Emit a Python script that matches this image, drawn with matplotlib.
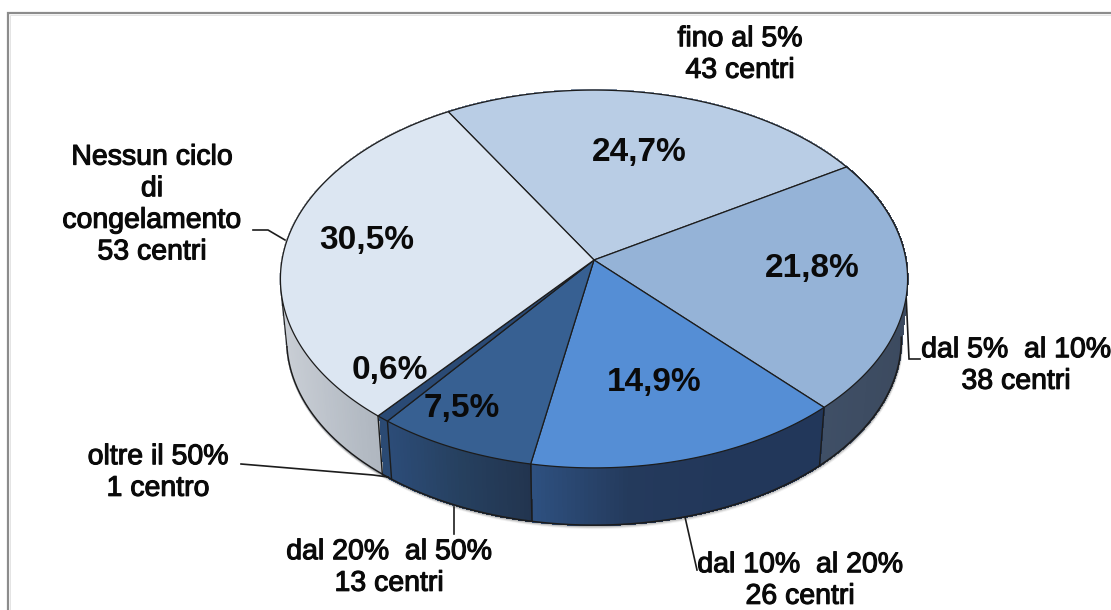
import numpy as np
import matplotlib
matplotlib.use("Agg")
import matplotlib.pyplot as plt
from matplotlib.patches import Polygon
from matplotlib.collections import PolyCollection
import matplotlib.colors as mc
import matplotlib.patheffects as pe

# ---- data ----
shares = [24.7, 21.8, 14.9, 7.5, 0.6, 30.5]
pct_labels = ["24,7%", "21,8%", "14,9%", "7,5%", "0,6%", "30,5%"]
cat_labels = ["fino al 5%\n43 centri", "dal 5%  al 10%\n38 centri",
              "dal 10%  al 20%\n26 centri", "dal 20%  al 50%\n13 centri",
              "oltre il 50%\n1 centro", "Nessun ciclo\ndi\ncongelamento\n53 centri"]

# ---- styles ----
top_colors = ["#b9cde5", "#95b3d7", "#558ed5", "#376092", "#2a4a75", "#dce6f2"]
side_stops = [["#8a9ab0", "#8a9ab0"],
              ["#3f4f66", "#3c4a5f"],
              ["#2e5080", "#243a5c", "#22375a", "#22375a"],
              ["#2c4c78", "#26405f", "#22344f"],
              ["#2b4a73", "#2b4a73"],
              ["#c9ced5", "#b2b9c2", "#a3aab4"]]
pct_pos = [(639, 153), (812, 268), (654, 383), (462, 408), (390, 370), (367, 240)]
cat_pos = [(740, 55), (1016, 366), (800, 581), (389, 568), (158, 473), (152, 205)]
leaders = [[(906, 293), (909, 359), (920, 359)],
           [(685, 517), (697, 570)],
           [(454, 507), (454, 534)],
           [(241, 464), (373, 475), (388, 477)],
           [(253, 230), (268, 230), (285, 240)]]

W, H = 1111, 610
fig = plt.figure(figsize=(W / 100, H / 100), dpi=100, facecolor="white")
ax = fig.add_axes([0, 0, 1, 1])
ax.set_xlim(0, W)
ax.set_ylim(H, 0)
ax.axis("off")
plt.rcParams["font.family"] = ["Liberation Sans", "DejaVu Sans"]

# frame
ax.plot([7.5, 7.5, W], [H, 12.5, 12.5], color="#8c8c8c", lw=1.6, solid_joinstyle="miter", zorder=1)
ax.plot([9.5, 9.5, W], [H, 14.5, 14.5], color="#e4e4e4", lw=0.7, zorder=1)

# projection of unit disc (clockwise angle from top) to pixels
CX, CY, A, B, K = 594, 260, 312, 187, 0.1005
S, CY2 = 0.98, 321.0


def rim(theta):
    x, y = np.sin(theta), np.cos(theta)
    d = 1 + K * y
    return CX + A * x / d, CY - B * y / d


def low(theta):
    px, py = rim(theta)
    return CX + S * (px - CX), CY2 + 0.982 * (py - CY)


START = np.radians(-30.5)
fracs = np.array(shares) / sum(shares)
edges = START + 2 * np.pi * np.concatenate([[0], np.cumsum(fracs)])
INK = "#1c1c1c"

# soft shadow under the lower edge
front = np.linspace(np.radians(95), np.radians(262), 200)
lx, ly = low(front)
for off, al in [(3.0, .05), (2.0, .10), (1.0, .18)]:
    ax.plot(lx + off * .3, ly + off, color="black", alpha=al, lw=1.5, zorder=2)

# side walls
for i, (t0, t1) in enumerate(zip(edges[:-1], edges[1:])):
    n = max(4, int((t1 - t0) * 80))
    ts = np.linspace(t0, t1, n + 1)
    rx, ry = rim(ts)
    bx, by = low(ts)
    stops = [mc.to_rgb(c) for c in side_stops[i]]
    pos = np.linspace(0, 1, len(stops))
    xmin, xmax = rx.min(), rx.max()
    quads, cols = [], []
    for j in range(n):
        quads.append([(rx[j], ry[j]), (rx[j + 1], ry[j + 1]), (bx[j + 1], by[j + 1]), (bx[j], by[j])])
        u = ((rx[j] + rx[j + 1]) / 2 - xmin) / max(xmax - xmin, 1e-6)
        cols.append([np.interp(u, pos, [s[c] for s in stops]) for c in range(3)])
    ax.add_collection(PolyCollection(quads, facecolors=cols, edgecolors=cols, linewidths=0.8,
                                     antialiaseds=False, zorder=3))

# outlines of side walls
ax.plot(lx, ly, color=INK, lw=1.1, zorder=4)
for t in edges:
    tn = np.mod(t, 2 * np.pi)
    if front[0] < tn < front[-1]:
        rx, ry = rim(t)
        bx, by = low(t)
        ax.plot([rx, bx], [ry, by], color=INK, lw=1.0, zorder=4)
tx0, ty0 = rim(front[-1])
ax.plot([tx0, lx[-1]], [ty0, ly[-1]], color=INK, lw=0.8, zorder=4)

# top face
for i, (t0, t1) in enumerate(zip(edges[:-1], edges[1:])):
    ts = np.linspace(t0, t1, max(3, int((t1 - t0) * 120)))
    rx, ry = rim(ts)
    pts = np.column_stack([np.r_[CX, rx], np.r_[CY, ry]])
    ax.add_patch(Polygon(pts, closed=True, facecolor=top_colors[i], edgecolor=INK,
                         lw=0.9, joinstyle="round", zorder=5))

# leader lines
for pts in leaders:
    xs, ys = zip(*pts)
    ax.plot(xs, ys, color=INK, lw=1.2, zorder=4.5, solid_joinstyle="miter")

# texts
for s, (x, y) in zip(pct_labels, pct_pos):
    ax.text(x, y, s, fontsize=24, fontweight="bold", ha="center", va="center",
            color="#0a0a0a", zorder=6)
for s, (x, y) in zip(cat_labels, cat_pos):
    t = ax.text(x, y, s, fontsize=20.5, ha="center", va="center", color="#0a0a0a",
                linespacing=1.28, zorder=6)
    t.set_path_effects([pe.withStroke(linewidth=0.8, foreground="#0a0a0a")])

fig.savefig("out.png", dpi=100, facecolor="white")
